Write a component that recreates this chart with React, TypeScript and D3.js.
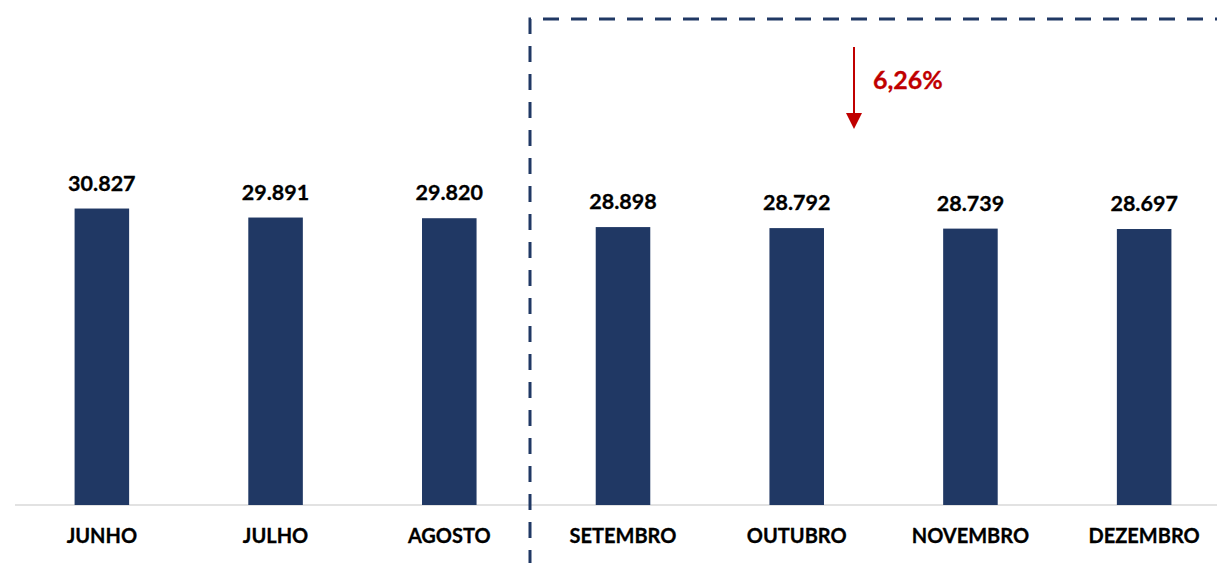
import { scaleBand, scaleLinear } from "d3";

const months = ["JUNHO", "JULHO", "AGOSTO", "SETEMBRO", "OUTUBRO", "NOVEMBRO", "DEZEMBRO"];
const values = [30827, 29891, 29820, 28898, 28792, 28739, 28697];
const valueLabels = ["30.827", "29.891", "29.820", "28.898", "28.792", "28.739", "28.697"];
const dropLabel = "6,26%";

const W = 1217;
const H = 563;
const baseY = 505;
const font = "Lato, 'Open Sans', sans-serif";
const navy = "#203864";
const red = "#c00000";

export default function App() {
  const x = scaleBand<string>()
    .domain(months)
    .range([15, 1231])
    .paddingInner(0.686)
    .paddingOuter(0.343);

  const y = scaleLinear().domain([0, 35000]).range([baseY, 168.4]);

  const arrowX = 854;

  return (
    <svg
      width={W}
      height={H}
      style={{ position: "absolute", left: 0, top: 0, background: "#fff" }}
      fontFamily={font}
    >
      <line x1={15} x2={W} y1={baseY} y2={baseY} stroke="#d9d9d9" strokeWidth={1.5} />
      {months.map((m, i) => {
        const cx = (x(m) ?? 0) + x.bandwidth() / 2;
        return (
          <g key={m}>
            <rect
              x={x(m)}
              y={y(values[i])}
              width={x.bandwidth()}
              height={baseY - y(values[i])}
              fill={navy}
            />
            <text
              x={cx}
              y={y(values[i]) - 18}
              textAnchor="middle"
              fontSize={21.5}
              fontWeight="bold"
              fill="#000"
              stroke="#000"
              strokeWidth={0.3}
            >
              {valueLabels[i]}
            </text>
            <text
              x={cx}
              y={543}
              textAnchor="middle"
              fontSize={20}
              fontWeight="bold"
              fill="#000"
              stroke="#000"
              strokeWidth={0.3}
            >
              {m}
            </text>
          </g>
        );
      })}
      {/* dashed projection box */}
      <path
        d={`M530,${H + 5} L530,19 L${W + 10},19`}
        fill="none"
        stroke={navy}
        strokeWidth={3}
        strokeDasharray="16 12"
        strokeDashoffset={-2}
      />
      <line x1={arrowX} x2={arrowX} y1={47} y2={116} stroke={red} strokeWidth={2} />
      <path d={`M${arrowX - 8},113 L${arrowX + 8},113 L${arrowX},129 Z`} fill={red} />
      <text x={873} y={89} fontSize={25} fontWeight="bold" fill={red} stroke={red} strokeWidth={0.3}>
        {dropLabel}
      </text>
    </svg>
  );
}
